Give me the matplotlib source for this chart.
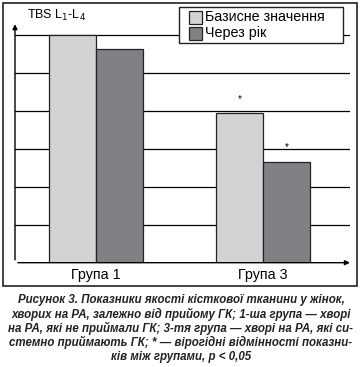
import matplotlib.pyplot as plt
from matplotlib.patches import Rectangle

# data
groups = ['Група 1', 'Група 3']
baseline = [6.0, 3.93]
after_year = [5.62, 2.65]
series_names = ['Базисне значення', 'Через рік']
series_colors = ['#d2d3d5', '#808184']
stars_base = ['', '*']
stars_after = ['', '*']

caption = ['Рисунок 3. Показники якості кісткової тканини у жінок,',
           'хворих на РА, залежно від прийому ГК; 1-ша група — хворі',
           'на РА, які не приймали ГК; 3-тя група — хворі на РА, які си-',
           'стемно приймають ГК; * — вірогідні відмінності показни-',
           'ків між групами, p < 0,05']

W, H = 362, 367
plt.rcParams['font.family'] = ['Liberation Sans', 'DejaVu Sans']
fig = plt.figure(figsize=(W / 100, H / 100), dpi=100)


def fx(px):
    return px / W


def fy(py):
    return 1 - py / H


# outer frame
fig.add_artist(Rectangle((fx(3), fy(286)), 354 / W, 283 / H, transform=fig.transFigure,
                         fill=False, edgecolor='#222222', linewidth=1.2))

ax = fig.add_axes([fx(15), fy(262.7), 335 / W, 241.3 / H])
ax.set_xlim(-0.485, 1.521)
ax.set_ylim(0, 6.35)
for s in ax.spines.values():
    s.set_visible(False)
ax.set_xticks([])
ax.set_yticks([])

for g in range(1, 7):
    ax.axhline(g, color='black', linewidth=0.9, zorder=1)

w = 0.281
xs = list(range(len(groups)))
ax.bar([x - w / 2 for x in xs], baseline, w, color=series_colors[0], edgecolor='#222222', linewidth=0.9, zorder=2)
ax.bar([x + w / 2 for x in xs], after_year, w, color=series_colors[1], edgecolor='#222222', linewidth=0.9, zorder=2)

for x, v, s in zip(xs, baseline, stars_base):
    if s:
        ax.text(x - w / 2, v + 0.25, s, ha='center', va='bottom', fontsize=7)
for x, v, s in zip(xs, after_year, stars_after):
    if s:
        ax.text(x + w / 2, v + 0.25, s, ha='center', va='bottom', fontsize=7)

# axes with arrows
ax.annotate('', xy=(0, 1.0), xytext=(0, 0), xycoords='axes fraction',
            arrowprops=dict(arrowstyle='-|>', color='black', lw=1, mutation_scale=7))
ax.annotate('', xy=(1.008, 0), xytext=(0, 0), xycoords='axes fraction',
            arrowprops=dict(arrowstyle='-|>', color='black', lw=1, mutation_scale=7))

for x, name in zip(xs, groups):
    ax.text(x, -0.32, name, ha='center', va='center', fontsize=10.3)

fig.text(fx(27), fy(15), 'TBS L$_1$-L$_4$', ha='left', va='center', fontsize=9)

# legend drawn by hand to match the box size
fig.add_artist(Rectangle((fx(179), fy(43)), 164 / W, 36 / H, transform=fig.transFigure,
                         facecolor='white', edgecolor='#222222', linewidth=1, zorder=5))
for i, (name, col) in enumerate(zip(series_names, series_colors)):
    yc = 17 + i * 16.5
    fig.add_artist(Rectangle((fx(189), fy(yc + 6.5)), 13 / W, 13 / H, transform=fig.transFigure,
                             facecolor=col, edgecolor='#222222', linewidth=0.9, zorder=6))
    fig.text(fx(205), fy(yc), name, ha='left', va='center', fontsize=10.3, zorder=6)

for i, line in enumerate(caption):
    fig.text(0.5, fy(303.5 + i * 14.2), line, ha='center', va='baseline', fontsize=8.3,
             fontweight='bold', fontstyle='italic', color='#222222')

fig.savefig('out.png', dpi=100)
